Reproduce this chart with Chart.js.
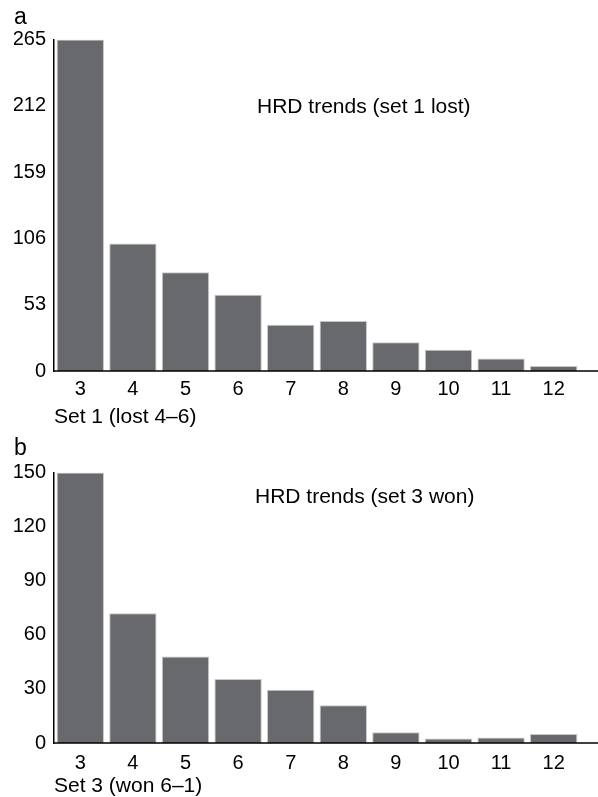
<!DOCTYPE html>
<html>
<head>
<meta charset="utf-8">
<script src="https://cdn.jsdelivr.net/npm/chart.js@4/dist/chart.umd.min.js"></script>
<style>
  body { margin: 0; background: #fff; }
  canvas { position: absolute; left: 0; }
</style>
</head>
<body>
<canvas id="chartA" width="598" height="432" style="top:0"></canvas>
<canvas id="chartB" width="598" height="365" style="top:432px"></canvas>
<script>
// HRD trends, two panels
const categories = ["3", "4", "5", "6", "7", "8", "9", "10", "11", "12"];
const lostValues = [265, 102, 79, 61, 37, 40, 23, 17, 10, 4];
const wonValues = [150, 72, 48, 35.5, 29.5, 21, 6, 2.5, 3, 5];
const lostTicks = [0, 53, 106, 159, 212, 265];
const wonTicks = [0, 30, 60, 90, 120, 150];

const FONT = "'Liberation Sans', Arial, Helvetica, sans-serif";
Chart.defaults.font.family = FONT;
Chart.defaults.color = "#000";

// axis line runs on to the right edge, heading sits inside the plot
const panelText = {
  id: "panelText",
  afterDraw(chart, args, opts) {
    const { ctx, chartArea } = chart;
    ctx.save();
    ctx.strokeStyle = "#000";
    ctx.lineWidth = 1.5;
    ctx.beginPath();
    ctx.moveTo(chartArea.left, chartArea.bottom);
    ctx.lineTo(chart.width, chartArea.bottom);
    ctx.stroke();
    ctx.font = "21px " + FONT;
    ctx.fillStyle = "#000";
    ctx.textBaseline = "middle";
    ctx.fillText(opts.text, opts.x, opts.y);
    ctx.restore();
  },
};

function makeChart(id, letter, values, ticks, setLabel, heading, cfg) {
  return new Chart(document.getElementById(id), {
    type: "bar",
    data: {
      labels: categories,
      datasets: [
        {
          data: values,
          backgroundColor: "#68696d",
          borderColor: "#c6c6c8",
          borderWidth: 1,
          barPercentage: 0.9,
          categoryPercentage: 1,
        },
      ],
    },
    options: {
      responsive: false,
      animation: false,
      layout: { padding: { left: 14, right: 18, top: 0, bottom: 0 } },
      scales: {
        x: {
          grid: { display: false, drawTicks: false },
          border: { display: false },
          ticks: { font: { size: 20 }, padding: cfg.tickPad },
          title: {
            display: true,
            text: setLabel,
            align: "start",
            font: { size: 21 },
            padding: { top: 0, bottom: cfg.setPad },
          },
          afterFit: (s) => { s.height = cfg.xHeight; },
        },
        y: {
          min: 0,
          max: ticks[ticks.length - 1],
          grid: { display: false, drawTicks: false },
          border: { display: true, color: "#000", width: 1.5 },
          ticks: { font: { size: 20 }, padding: 8 },
          afterBuildTicks: (s) => { s.ticks = ticks.map((v) => ({ value: v })); },
          afterFit: (s) => { s.width = 40; },
        },
      },
      plugins: {
        legend: { display: false },
        tooltip: { enabled: false },
        title: {
          display: true,
          text: letter,
          align: "start",
          font: { size: 23, weight: "normal" },
          padding: cfg.letterPad,
        },
        panelText: heading,
      },
    },
    plugins: [panelText],
  });
}

makeChart("chartA", "a", lostValues, lostTicks, "Set 1 (lost 4–6)",
  { text: "HRD trends (set 1 lost)", x: 257, y: 107 },
  { tickPad: 6, setPad: 2, xHeight: 61, letterPad: { top: 4, bottom: 8 } });

makeChart("chartB", "b", wonValues, wonTicks, "Set 3 (won 6–1)",
  { text: "HRD trends (set 3 won)", x: 255, y: 65 },
  { tickPad: 8, setPad: -2, xHeight: 54, letterPad: { top: 3, bottom: 10 } });
</script>
</body>
</html>
